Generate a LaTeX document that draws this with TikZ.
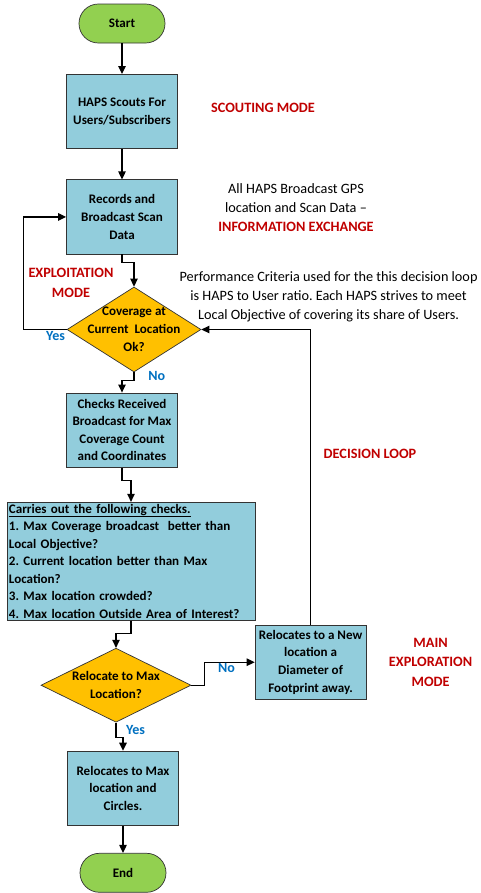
\documentclass[tikz,border=0pt]{standalone}
\usepackage{fontspec}
\setmainfont{Carlito}
\usetikzlibrary{shapes.geometric,arrows.meta}
\definecolor{startgreen}{HTML}{92D050}
\definecolor{boxblue}{HTML}{92CDDC}
\definecolor{askgold}{HTML}{FFC000}
\definecolor{modered}{HTML}{C00000}
\definecolor{answerblue}{HTML}{0070C0}
\frenchspacing

\begin{document}
\begin{tikzpicture}[node distance=36mm, line width=1.2pt, >={Triangle[length=2.8mm,width=2.6mm]},
  terminal/.style={rectangle, rounded corners=6.8mm, draw=black!80, line width=0.7pt, fill=startgreen, minimum width=30.1mm, minimum height=13.65mm, font=\bfseries\fontsize{13}{17.5}\selectfont},
  block/.style={rectangle, draw=black!80, line width=0.7pt, fill=boxblue, minimum width=38.85mm, minimum height=26mm, inner sep=1pt, align=center, font=\bfseries\fontsize{13}{17.5}\selectfont},
  decision/.style={diamond, draw=black!80, line width=0.7pt, fill=askgold, inner sep=0pt},
  asktext/.style={align=center, inner sep=0pt, font=\bfseries\fontsize{13}{17.8}\selectfont},
  modetext/.style={align=center, text=modered, font=\bfseries\fontsize{14.2}{19.5}\selectfont},
  note/.style={align=center, font=\fontsize{14.2}{19}\selectfont},
  answer/.style={text=answerblue, inner sep=1pt, font=\bfseries\fontsize{14}{17}\selectfont}]
  \useasboundingbox (-42.7mm,8.225mm) rectangle (125.65mm,-304.325mm);

  \node[terminal] (start) {Start};
  \node[block, below of=start, node distance=30.8mm] (scout) {HAPS Scouts For\\Users/Subscribers};
  \node[block, below of=scout, node distance=36.9mm] (rec) {Records and\\Broadcast Scan\\Data};
  \node[decision, below of=rec, node distance=39.4mm, xshift=4.2mm, minimum width=46.9mm, minimum height=29.75mm,
    label={[asktext]center:Coverage at\\Current~ Location\\Ok?}] (cov) {};
  \node[block, below of=cov, node distance=35.2mm, xshift=-4.2mm] (chk) {Checks Received\\Broadcast for Max\\Coverage Count\\and Coordinates};
  \node[block, below of=chk, node distance=45.9mm, xshift=3.15mm, minimum width=86.8mm, minimum height=41.3mm,
    inner xsep=0.7mm, inner ysep=0pt, text width=85.4mm, align=left] (checklist)
    {\underline{Carries out the following checks.}\\
     1. Max Coverage broadcast~ better than\\
     Local Objective?\\
     2. Current location better than Max\\
     Location?\\
     3. Max location crowded?\\
     4. Max location Outside Area of Interest?};
  \node[decision, below of=checklist, node distance=43.4mm, xshift=-5.25mm, minimum width=52.5mm, minimum height=25.9mm,
    label={[asktext]center:Relocate to Max\\Location?}] (move) {};
  \node[block, below of=move, node distance=36.05mm, xshift=2.45mm] (relmax) {Relocates to Max\\location and\\Circles.};
  \node[terminal, below of=relmax, node distance=29.6mm] (end) {End};
  \node[block, right of=move, node distance=68.1mm, yshift=8.05mm] (relnew) {Relocates to a New\\location a\\Diameter of\\Footprint away.};

  \node[modetext, right of=scout, node distance=49.35mm, yshift=1.2mm] (scouting) {SCOUTING MODE};
  \node[note, right of=rec, node distance=60.9mm, yshift=3.15mm] (exchange) {All HAPS Broadcast GPS\\location and Scan Data –\\\textcolor{modered}{\textbf{INFORMATION EXCHANGE}}};
  \node[modetext, left of=cov, node distance=22.05mm, yshift=16.3mm] (exploit) {EXPLOITATION\\MODE};
  \node[note, right of=cov, node distance=68.1mm, yshift=11.4mm] (criteria) {Performance Criteria used for the this decision loop\\is HAPS to User ratio. Each HAPS strives to meet\\Local Objective of covering its share of Users.};
  \node[modetext, right of=chk, node distance=86.8mm, yshift=-8.4mm] (loop) {DECISION LOOP};
  \node[modetext, right of=relnew, node distance=42mm] (explore) {MAIN\\EXPLORATION\\MODE};

  \draw[->] (start) -- (scout);
  \draw[->] (scout) -- (rec);
  \draw[->] (rec.south) -- ++(0,-2.8mm) -| (cov.north);
  \draw[->] (cov.west) node[answer, below left] {Yes} -- ++(-15.05mm,0) |- (rec.west);
  \draw[->] (cov.south) -- node[answer, right=4.5mm] {No} ++(0,-2.8mm) -| (chk.north);
  \draw[->] (chk.south) -- ++(0,-4.55mm) -| (checklist.north);
  \draw[->] (checklist.south) -- ++(0,-4.55mm) -| (move.north);
  \draw[->] (move.east) -- ++(4.55mm,0) |- node[answer, pos=0.72, below] {No} (relnew.west);
  \draw[->] (move.south) -- node[answer, right=3mm] {Yes} ++(0,-5.25mm) -| (relmax.north);
  \draw[->] (relmax) -- (end);
  \draw[->] (relnew.north) |- (cov.east);
\end{tikzpicture}
\end{document}
